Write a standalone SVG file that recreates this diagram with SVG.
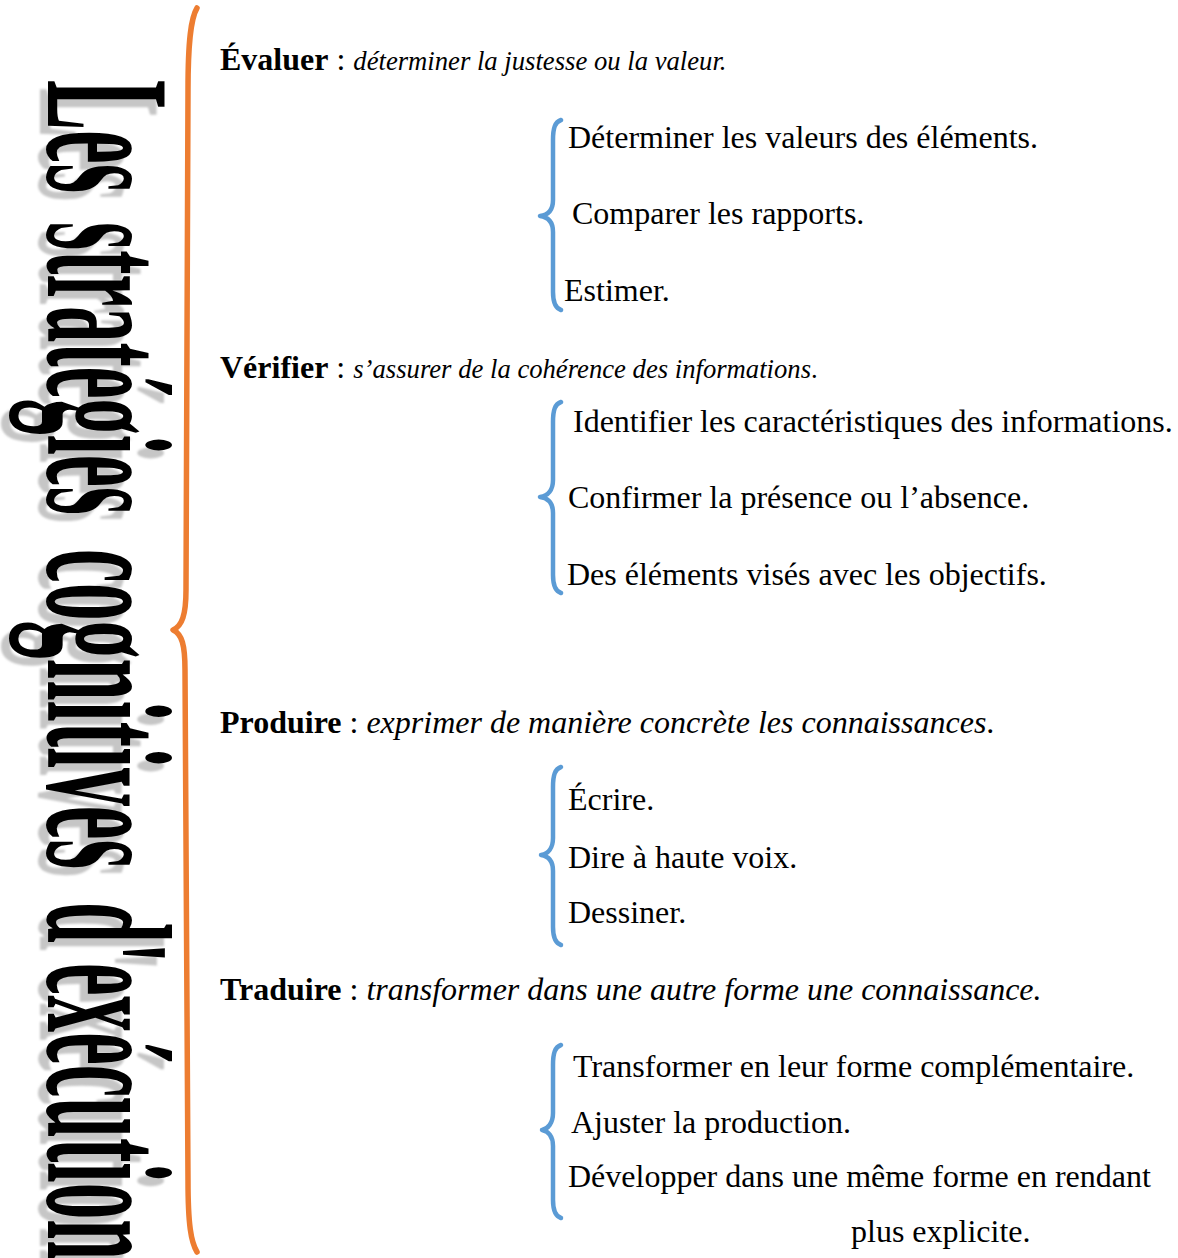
<svg xmlns="http://www.w3.org/2000/svg" xmlns:xlink="http://www.w3.org/1999/xlink" width="1178" height="1258" viewBox="0 0 1178 1258">
  <style>
    text { font-family: "Liberation Serif", "Times New Roman", serif; }
    .item { font-size: 32px; }
    .head { font-size: 32px; }
    .b { font-weight: bold; }
    .i { font-style: italic; }
    .sm { font-size: 26.67px; }
    .title { font-family: "Liberation Serif", serif; font-weight: bold; font-size: 177px; }
    .brace-blue { fill: none; stroke: #5B9BD5; stroke-width: 4.5; stroke-linecap: round; stroke-linejoin: round; }
    .brace-main { fill: none; stroke: #ED7D31; stroke-width: 5.5; stroke-linecap: round; stroke-linejoin: round; }
  </style>
  <defs>
    <filter id="soft" x="-5%" y="-5%" width="110%" height="110%">
      <feGaussianBlur stdDeviation="1.3"/>
    </filter>
    <!-- vertical title, reading top to bottom; fill comes from each <use> -->
    <g id="titleText" transform="translate(48,0) rotate(90)">
      <text class="title" x="80" y="0" textLength="113" lengthAdjust="spacingAndGlyphs">Les</text>
      <text class="title" x="222" y="0" textLength="293" lengthAdjust="spacingAndGlyphs">stratégies</text>
      <text class="title" x="549" y="0" textLength="320" lengthAdjust="spacingAndGlyphs">cognitives</text>
      <text class="title" x="902" y="0" textLength="358" lengthAdjust="spacingAndGlyphs">d'exécution</text>
    </g>
  </defs>

  <rect width="1178" height="1258" fill="#fff"/>

  <!-- title with drop shadow -->
  <g id="title">
    <use xlink:href="#titleText" transform="translate(-8,8)" fill="#c6c6c6" filter="url(#soft)"/>
    <use xlink:href="#titleText" fill="#000"/>
  </g>

  <!-- connectors: braces -->
  <g id="connectors">
    <path class="brace-main" d="M197,8 C191,18 188,40 188,90 L186,590 C186,615 182,626 173,630 C182,634 185,645 185,670 L188,1180 C188,1225 191,1242 197,1252"/>
    <path class="brace-blue" d="M561,120 C555,122 553,128 553,140 L553,200 C553,210 548,215 540,216 C548,217 553,222 553,232 L553,292 C553,302 555,308 561,310"/>
    <path class="brace-blue" d="M561,402 C555,404 553,410 553,422 L553,480 C553,490 548,496 540,497 C548,498 553,503 553,513 L553,575 C553,585 555,591 561,593"/>
    <path class="brace-blue" d="M561,767 C555,769 553,775 553,787 L553,838 C553,848 548,854 541,855 C548,856 553,861 553,871 L553,927 C553,937 555,943 561,945"/>
    <path class="brace-blue" d="M561,1045 C555,1047 553,1053 553,1065 L553,1113 C553,1123 548,1129 542,1130 C548,1131 553,1136 553,1146 L553,1200 C553,1210 555,1216 561,1218"/>
  </g>

  <!-- Évaluer -->
  <g id="evaluer">
    <text class="head" x="220" y="70"><tspan class="b">Évaluer</tspan> : <tspan class="i sm">déterminer la justesse ou la valeur.</tspan></text>
    <text class="item" x="568" y="148">Déterminer les valeurs des éléments.</text>
    <text class="item" x="572" y="224">Comparer les rapports.</text>
    <text class="item" x="564" y="301">Estimer.</text>
  </g>

  <!-- Vérifier -->
  <g id="verifier">
    <text class="head" x="220" y="378"><tspan class="b">Vérifier</tspan> : <tspan class="i sm">s’assurer de la cohérence des informations</tspan><tspan class="sm">.</tspan></text>
    <text class="item" x="573" y="432">Identifier les caractéristiques des informations.</text>
    <text class="item" x="568" y="508">Confirmer la présence ou l’absence.</text>
    <text class="item" x="567" y="585">Des éléments visés avec les objectifs.</text>
  </g>

  <!-- Produire -->
  <g id="produire">
    <text class="head" x="220" y="733"><tspan class="b">Produire</tspan> : <tspan class="i">exprimer de manière concrète les connaissances</tspan>.</text>
    <text class="item" x="568" y="810">Écrire.</text>
    <text class="item" x="568" y="868">Dire à haute voix.</text>
    <text class="item" x="568" y="923">Dessiner.</text>
  </g>

  <!-- Traduire -->
  <g id="traduire">
    <text class="head" x="220" y="1000"><tspan class="b">Traduire</tspan> : <tspan class="i">transformer dans une autre forme une connaissance.</tspan></text>
    <text class="item" x="573" y="1077">Transformer en leur forme complémentaire.</text>
    <text class="item" x="571" y="1133">Ajuster la production.</text>
    <text class="item" x="568" y="1187">Développer dans une même forme en rendant</text>
    <text class="item" x="851" y="1242">plus explicite.</text>
  </g>
</svg>
